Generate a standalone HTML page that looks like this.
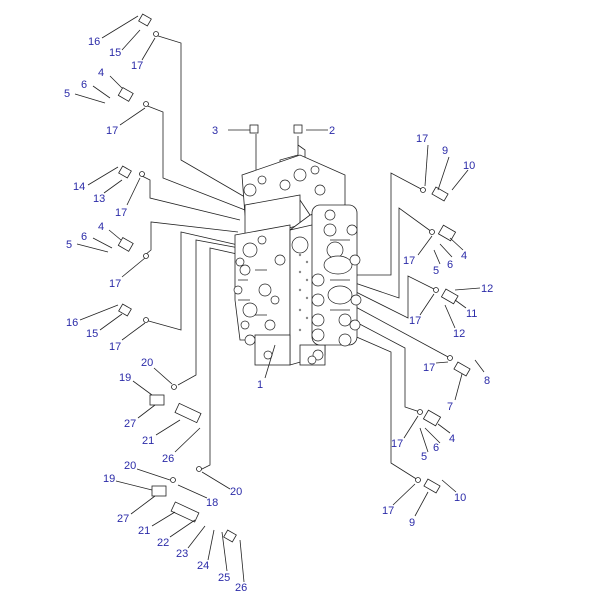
<!DOCTYPE html>
<html><head><meta charset="utf-8"><style>
html,body{margin:0;padding:0;background:#fff;width:600px;height:600px;overflow:hidden}
text{font-family:"Liberation Sans",sans-serif;font-size:11px;fill:#2b2ba8}
</style></head><body>
<svg width="600" height="600" viewBox="0 0 600 600" xmlns="http://www.w3.org/2000/svg">
<g fill="none" stroke="#222" stroke-width="0.8">
<polyline points="155,35 181,43 181,160 250,200"/>
<polyline points="145,105 163,112 163,178 245,210"/>
<polyline points="140,175 150,180 150,198 240,220"/>
<polyline points="145,255 151,250 151,222 238,232"/>
<polyline points="145,320 181,330 181,232 238,245"/>
<polyline points="178,385 196,375 196,240 250,250"/>
<polyline points="200,470 210,465 210,248 255,258"/>
<polyline points="350,275 391,275 391,173 423,190"/>
<polyline points="352,282 399,298 399,208 432,232"/>
<polyline points="352,290 408,318 408,276 436,290"/>
<polyline points="352,305 450,358"/>
<polyline points="352,320 405,348 405,407 420,412"/>
<polyline points="352,335 391,352 391,463 418,480"/>
<line x1="228" y1="130" x2="254" y2="130"/><line x1="306" y1="130" x2="328" y2="130"/>
<line x1="256" y1="134" x2="256" y2="180"/>
<polyline points="298,136 298,155 280,160 280,190 305,195 305,150 298,145"/>
<g fill="#fff">
<polygon points="242,175 300,155 345,175 345,205 310,215 300,200 245,215"/>
<polygon points="245,205 300,195 300,225 245,240"/>
<polygon points="235,235 290,225 290,340 240,340 235,300"/>
<polygon points="290,230 325,220 325,355 290,365"/>
<polygon points="290,230 310,215 345,210 325,222"/>
<rect x="300" y="345" width="25" height="20"/>
<rect x="255" y="335" width="35" height="30"/>
<rect x="312" y="205" width="45" height="140" rx="8"/>
</g>
<g fill="#fff" stroke-width="0.7">
<circle cx="300" cy="175" r="6"/><circle cx="285" cy="185" r="5"/><circle cx="320" cy="190" r="5"/>
<circle cx="300" cy="245" r="8"/><circle cx="330" cy="230" r="6"/><circle cx="335" cy="250" r="8"/>
<ellipse cx="338" cy="265" rx="14" ry="9"/><ellipse cx="340" cy="295" rx="12" ry="9"/>
<circle cx="318" cy="280" r="6"/><circle cx="318" cy="300" r="6"/><circle cx="318" cy="320" r="6"/><circle cx="318" cy="335" r="6"/>
<circle cx="345" cy="320" r="6"/><circle cx="345" cy="340" r="6"/>
<circle cx="250" cy="250" r="7"/><circle cx="245" cy="270" r="5"/><circle cx="265" cy="290" r="6"/>
<circle cx="250" cy="310" r="7"/><circle cx="270" cy="325" r="5"/><circle cx="280" cy="260" r="5"/>
<circle cx="250" cy="190" r="6"/><circle cx="318" cy="355" r="5"/><circle cx="250" cy="340" r="5"/>
<circle cx="240" cy="262" r="4"/><circle cx="238" cy="290" r="4"/><circle cx="262" cy="240" r="4"/><circle cx="275" cy="300" r="4"/>
<circle cx="352" cy="230" r="5"/><circle cx="355" cy="260" r="5"/><circle cx="356" cy="300" r="5"/><circle cx="355" cy="325" r="5"/>
<circle cx="262" cy="180" r="4"/><circle cx="315" cy="170" r="4"/><circle cx="330" cy="215" r="5"/>
<circle cx="268" cy="355" r="4"/><circle cx="312" cy="360" r="4"/><circle cx="245" cy="325" r="4"/>
<path d="M238,280 h10 M238,300 h12 M255,270 h12 M255,315 h12 M330,240 h20 M330,280 h20 M330,310 h20"/>
</g>
<g fill="#888" stroke="none">
<circle cx="300" cy="255" r="1.2"/><circle cx="307" cy="262" r="1.2"/><circle cx="300" cy="272" r="1.2"/><circle cx="307" cy="280" r="1.2"/><circle cx="300" cy="290" r="1.2"/><circle cx="307" cy="298" r="1.2"/><circle cx="300" cy="310" r="1.2"/><circle cx="307" cy="318" r="1.2"/><circle cx="300" cy="330" r="1.2"/>
</g>
<line x1="275" y1="345" x2="265" y2="378"/>
<g fill="#fff">
<rect x="140" y="16" width="10" height="8" transform="rotate(30 145 20)"/>
<rect x="120" y="90" width="12" height="9" transform="rotate(30 126 94)"/>
<rect x="120" y="168" width="10" height="8" transform="rotate(30 125 172)"/>
<rect x="120" y="240" width="12" height="9" transform="rotate(30 126 244)"/>
<rect x="120" y="306" width="10" height="8" transform="rotate(30 125 310)"/>
<rect x="150" y="395" width="14" height="10"/><rect x="176" y="408" width="24" height="10" transform="rotate(25 188 413)"/>
<rect x="152" y="486" width="14" height="10"/><rect x="172" y="507" width="26" height="10" transform="rotate(25 185 512)"/>
<rect x="433" y="190" width="14" height="8" transform="rotate(30 440 194)"/>
<rect x="440" y="228" width="14" height="10" transform="rotate(30 447 233)"/>
<rect x="443" y="292" width="14" height="9" transform="rotate(30 450 296)"/>
<rect x="455" y="365" width="14" height="8" transform="rotate(30 462 369)"/>
<rect x="425" y="413" width="14" height="10" transform="rotate(30 432 418)"/>
<rect x="425" y="482" width="14" height="8" transform="rotate(30 432 486)"/>
<rect x="250" y="125" width="8" height="8"/><rect x="294" y="125" width="8" height="8"/>
<circle cx="156" cy="34" r="2.5"/><circle cx="146" cy="104" r="2.5"/><circle cx="142" cy="174" r="2.5"/><circle cx="146" cy="256" r="2.5"/><circle cx="146" cy="320" r="2.5"/>
<circle cx="174" cy="387" r="2.5"/><circle cx="199" cy="469" r="2.5"/><circle cx="173" cy="480" r="2.5"/>
<circle cx="423" cy="190" r="2.5"/><circle cx="432" cy="232" r="2.5"/><circle cx="436" cy="290" r="2.5"/><circle cx="450" cy="358" r="2.5"/><circle cx="420" cy="412" r="2.5"/><circle cx="418" cy="480" r="2.5"/>
<rect x="225" y="532" width="10" height="8" transform="rotate(30 230 536)"/>
</g>
<line x1="102" y1="38" x2="138" y2="16"/><line x1="122" y1="50" x2="140" y2="30"/><line x1="142" y1="60" x2="155" y2="38"/>
<line x1="110" y1="76" x2="122" y2="88"/><line x1="93" y1="86" x2="110" y2="98"/><line x1="75" y1="94" x2="105" y2="103"/><line x1="120" y1="125" x2="145" y2="108"/>
<line x1="88" y1="185" x2="118" y2="167"/><line x1="104" y1="193" x2="122" y2="180"/><line x1="127" y1="205" x2="140" y2="178"/>
<line x1="109" y1="230" x2="121" y2="240"/><line x1="93" y1="238" x2="112" y2="248"/><line x1="77" y1="244" x2="108" y2="252"/><line x1="122" y1="277" x2="145" y2="258"/>
<line x1="80" y1="320" x2="118" y2="305"/><line x1="100" y1="330" x2="122" y2="314"/><line x1="122" y1="340" x2="145" y2="323"/>
<line x1="154" y1="368" x2="172" y2="384"/><line x1="133" y1="381" x2="152" y2="395"/><line x1="138" y1="418" x2="155" y2="405"/><line x1="156" y1="435" x2="180" y2="420"/><line x1="175" y1="452" x2="200" y2="428"/>
<line x1="137" y1="469" x2="170" y2="480"/><line x1="116" y1="481" x2="152" y2="490"/><line x1="207" y1="498" x2="178" y2="485"/><line x1="230" y1="489" x2="202" y2="472"/>
<line x1="131" y1="514" x2="155" y2="496"/><line x1="152" y1="526" x2="175" y2="512"/><line x1="170" y1="537" x2="195" y2="520"/><line x1="188" y1="548" x2="205" y2="526"/><line x1="208" y1="560" x2="214" y2="530"/><line x1="227" y1="571" x2="222" y2="532"/><line x1="244" y1="582" x2="240" y2="540"/>
<line x1="428" y1="145" x2="425" y2="186"/><line x1="449" y1="157" x2="438" y2="190"/><line x1="468" y1="170" x2="452" y2="190"/>
<line x1="418" y1="255" x2="432" y2="236"/><line x1="440" y1="264" x2="434" y2="250"/><line x1="452" y1="257" x2="440" y2="244"/><line x1="463" y1="250" x2="450" y2="238"/>
<line x1="480" y1="288" x2="455" y2="290"/><line x1="420" y1="315" x2="434" y2="294"/><line x1="466" y1="308" x2="455" y2="300"/><line x1="455" y1="328" x2="445" y2="305"/>
<line x1="484" y1="372" x2="475" y2="360"/><line x1="436" y1="363" x2="448" y2="362"/><line x1="455" y1="400" x2="462" y2="374"/>
<line x1="404" y1="438" x2="418" y2="416"/><line x1="428" y1="452" x2="420" y2="428"/><line x1="440" y1="443" x2="425" y2="428"/><line x1="450" y1="433" x2="438" y2="424"/>
<line x1="456" y1="492" x2="442" y2="480"/><line x1="393" y1="505" x2="415" y2="484"/><line x1="415" y1="516" x2="428" y2="492"/>
</g>
<g>
<text x="88" y="45">16</text><text x="109" y="56">15</text><text x="131" y="69">17</text>
<text x="98" y="76">4</text><text x="81" y="88">6</text><text x="64" y="97">5</text><text x="106" y="134">17</text>
<text x="212" y="134">3</text><text x="329" y="134">2</text>
<text x="73" y="190">14</text><text x="93" y="202">13</text><text x="115" y="216">17</text>
<text x="98" y="230">4</text><text x="81" y="240">6</text><text x="66" y="248">5</text><text x="109" y="287">17</text>
<text x="66" y="326">16</text><text x="86" y="337">15</text><text x="109" y="350">17</text>
<text x="141" y="366">20</text><text x="119" y="381">19</text><text x="124" y="427">27</text><text x="142" y="444">21</text><text x="162" y="462">26</text>
<text x="124" y="469">20</text><text x="103" y="482">19</text><text x="206" y="506">18</text><text x="230" y="495">20</text>
<text x="117" y="522">27</text><text x="138" y="534">21</text><text x="157" y="546">22</text><text x="176" y="557">23</text><text x="197" y="569">24</text><text x="218" y="581">25</text><text x="235" y="591">26</text>
<text x="257" y="388">1</text>
<text x="416" y="142">17</text><text x="442" y="154">9</text><text x="463" y="169">10</text>
<text x="403" y="264">17</text><text x="433" y="274">5</text><text x="447" y="268">6</text><text x="461" y="259">4</text>
<text x="481" y="292">12</text><text x="409" y="324">17</text><text x="466" y="317">11</text><text x="453" y="337">12</text>
<text x="484" y="384">8</text><text x="423" y="371">17</text><text x="447" y="410">7</text>
<text x="391" y="447">17</text><text x="421" y="460">5</text><text x="433" y="451">6</text><text x="449" y="442">4</text>
<text x="454" y="501">10</text><text x="382" y="514">17</text><text x="409" y="526">9</text>
</g>
</svg>
</body></html>
